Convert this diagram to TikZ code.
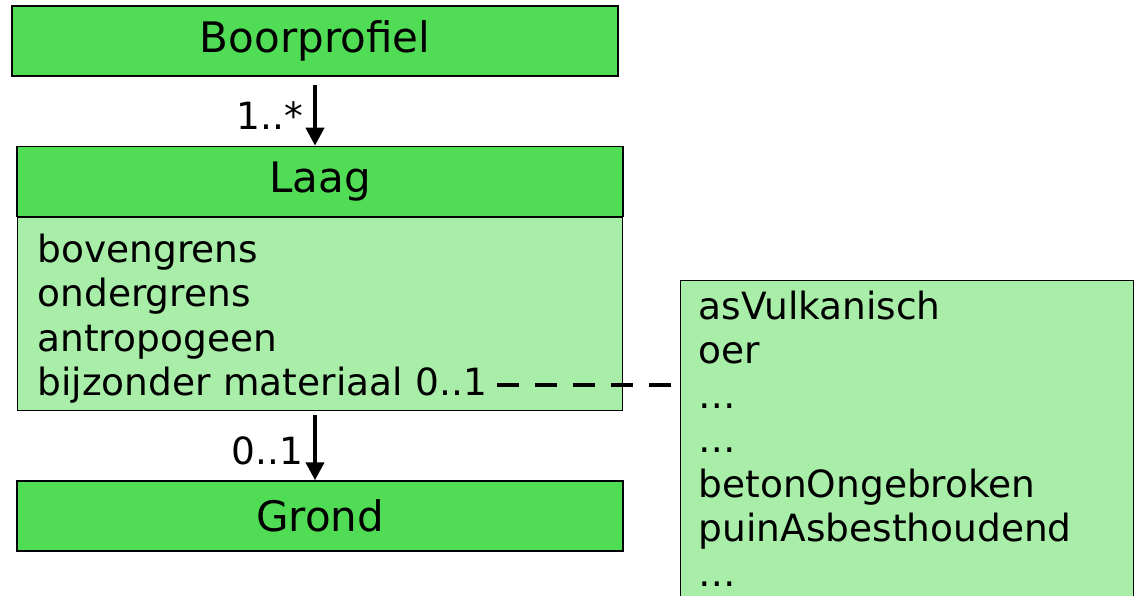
\documentclass[tikz,border=0pt]{standalone}
\usepackage{fontspec}
\setmainfont{DejaVu Sans}
\usetikzlibrary{positioning,arrows.meta}

\definecolor{kopgroen}{RGB}{80,221,85}
\definecolor{vakgroen}{RGB}{168,237,168}
\newcommand{\groot}{\fontsize{37.5}{44.5}\selectfont}
\newcommand{\kop}{\fontsize{42}{48}\selectfont}

\tikzset{
  klasse/.style={draw, line width=1.3pt, fill=kopgroen, minimum width=606pt,
    minimum height=70pt, inner sep=0pt, font=\kop},
  attrvak/.style={draw, line width=1.3pt, fill=vakgroen, align=left,
    text width=565pt, inner xsep=20pt, inner ysep=5pt, font=\groot},
  pijl/.style={-{Triangle[length=18pt,width=18pt]}, line width=4pt},
  rol/.style={left, inner sep=10pt, font=\groot},
}

\begin{document}
\begin{tikzpicture}[x=1pt, y=-1pt, node distance=69pt]
\useasboundingbox (0,0) rectangle (1139,595);

	\node[klasse] (boorprofiel) at (315,41) {Boorprofiel};
	\node[klasse, below=of boorprofiel, xshift=5pt] (laag) {Laag};
	\node[attrvak, below=0pt of laag, minimum height=193pt] (laagattr)
	{\rule{0pt}{38pt}bovengrens\\ondergrens\\antropogeen\\bijzonder materiaal 0..1};
	\node[klasse, below=of laagattr] (grond) {Grond};

	\node[attrvak, anchor=north west, text width=417pt, inner xsep=18pt, inner ysep=10pt]
	(bijzmat) at (680,280)
	{asVulkanisch\\oer\\\dots\\\dots\\betonOngebroken\\puinAsbesthoudend\\\dots\\[40pt]};

	% associaties
	\draw[pijl] ([yshift=-8pt]boorprofiel.south) -- (boorprofiel.south |- laag.north)
		node[rol, midway] {1..*};
	\draw[pijl] ([yshift=-4pt]boorprofiel.south |- laagattr.south) -- (boorprofiel.south |- grond.north)
		node[rol, pos=.55] {0..1};

	\coordinate (bm) at (497,385);
	\draw[line width=4pt, dash pattern=on 22pt off 16pt] (bm) -- (bm -| bijzmat.west);

\end{tikzpicture}
\end{document}
